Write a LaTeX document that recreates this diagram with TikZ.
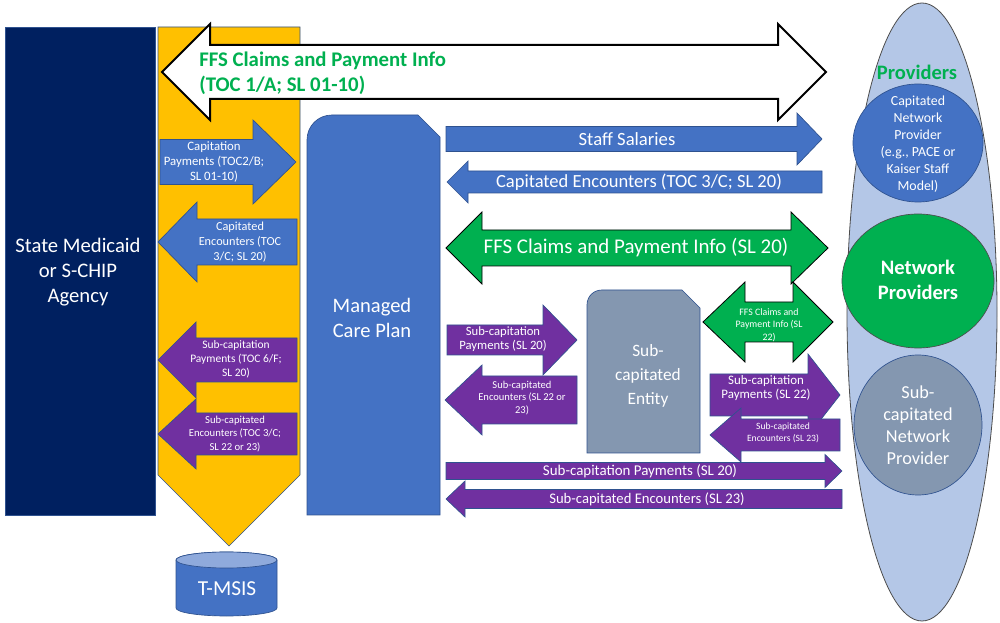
\documentclass[tikz,border=0pt]{standalone}
\usepackage{fontspec}
\setmainfont{Carlito}
\definecolor{AgencyClr}{RGB}{0,32,96}
\definecolor{FlowClr}{RGB}{255,192,0}
\definecolor{BlueClr}{RGB}{68,114,196}
\definecolor{PurpleClr}{RGB}{112,48,160}
\definecolor{GreenClr}{RGB}{0,176,80}
\definecolor{SlateClr}{RGB}{132,151,176}
\definecolor{PaleClr}{RGB}{180,199,231}
\definecolor{EdgeClr}{RGB}{47,82,143}
\definecolor{LidClr}{RGB}{143,170,220}

\newcommand{\fsz}[2]{\fontsize{#1}{#2}\selectfont}
\newcommand{\RightBlock}[7]{\filldraw[#1] (#2,#5-#6) -- (#3,#5-#6) -- (#3,#5-#7) -- (#4,#5) -- (#3,#5+#7) -- (#3,#5+#6) -- (#2,#5+#6) -- cycle;}
\newcommand{\LeftBlock}[7]{\filldraw[#1] (#2,#5) -- (#3,#5-#7) -- (#3,#5-#6) -- (#4,#5-#6) -- (#4,#5+#6) -- (#3,#5+#6) -- (#3,#5+#7) -- cycle;}
\newcommand{\BothBlock}[8]{\filldraw[#1] (#2,#6) -- (#3,#6-#8) -- (#3,#6-#7) -- (#4,#6-#7) -- (#4,#6-#8) -- (#5,#6) -- (#4,#6+#8) -- (#4,#6+#7) -- (#3,#6+#7) -- (#3,#6+#8) -- cycle;}

\tikzset{
  blue block/.style={fill=BlueClr,draw=EdgeClr,line width=0.5pt},
  purple block/.style={fill=PurpleClr,draw=EdgeClr,line width=0.5pt},
  green block/.style={fill=GreenClr,draw=black,line width=0.6pt},
  lbl/.style={text=white,align=center,inner sep=0pt},
}

\begin{document}
\begin{tikzpicture}[x=0.75pt,y=-0.75pt]
\useasboundingbox (0,0) rectangle (1000,623);

\filldraw[fill=AgencyClr,draw=EdgeClr,line width=0.5pt] (5,27) rectangle (155,515);
\filldraw[fill=FlowClr,draw=EdgeClr,line width=0.5pt] (158,27) -- (300,27) -- (300,475) -- (229,546) -- (158,475) -- cycle;

\filldraw[fill=BlueClr,draw=EdgeClr,line width=0.5pt] (176,560) -- (176,608) arc[start angle=180,end angle=0,x radius=50.5,y radius=8] -- (277,560) arc[start angle=0,end angle=-180,x radius=50.5,y radius=8] -- cycle;
\filldraw[fill=LidClr,draw=EdgeClr,line width=0.5pt] (226.5,560) ellipse[x radius=50.5,y radius=8];

\BothBlock{fill=white,draw=black,line width=1.5pt}{162}{210}{778}{826}{72}{27}{48}

\RightBlock{blue block}{160}{253}{296}{162}{22.5}{42}
\LeftBlock{blue block}{158}{197}{297}{242}{23}{40}
\LeftBlock{purple block}{158}{196}{297}{360}{22}{38}
\LeftBlock{purple block}{158}{196}{297}{434}{21}{35}

\filldraw[fill=BlueClr,draw=EdgeClr,line width=0.5pt] (307,515) -- (307,140) .. controls (307,126) and (318,115) .. (332,115) -- (418,115) -- (440,137) -- (440,515) -- cycle;
\filldraw[fill=SlateClr,draw=EdgeClr,line width=0.5pt] (587,453) -- (587,305) .. controls (587,296) and (594,290) .. (602,290) -- (682,290) -- (700,308) -- (700,453) -- cycle;

\RightBlock{blue block}{446}{797}{822}{139}{12.5}{26}
\LeftBlock{blue block}{447}{468}{822}{182}{11}{21}
\BothBlock{green block}{446}{482}{791}{828}{248}{18}{36}
\RightBlock{purple block}{447}{543}{577}{340}{15}{35}
\LeftBlock{purple block}{445}{482}{577}{400}{24}{35}
\BothBlock{green block}{703}{745}{793}{833}{322}{20}{40}
\RightBlock{purple block}{710}{808}{840}{395}{21}{41}
\LeftBlock{purple block}{710}{741}{840}{435}{16}{27}
\RightBlock{purple block}{446}{825}{842}{471}{8.5}{16.5}
\LeftBlock{purple block}{446}{465}{842}{499}{9.5}{18}

\filldraw[fill=PaleClr,draw=black!70,line width=0.6pt] (922,312) ellipse[x radius=75,y radius=309];
\filldraw[fill=BlueClr,draw=EdgeClr,line width=0.5pt] (918,143) ellipse[x radius=65,y radius=59];
\filldraw[fill=GreenClr,draw=black!70,line width=0.5pt] (918,281) ellipse[x radius=76,y radius=67];
\filldraw[fill=SlateClr,draw=EdgeClr,line width=0.5pt] (918,425) ellipse[x radius=64,y radius=70];

\node[lbl,font=\fsz{15.5}{19}] (agency) at (78,272) {State Medicaid\\or S-CHIP\\Agency};
\node[inner sep=0pt,align=left,anchor=west,text=GreenClr,font=\fsz{15.6}{18.75}\bfseries] (ffsTop) at (199,73) {FFS Claims and Payment Info\\(TOC 1/A; SL 01-10)};
\node[lbl,font=\fsz{9.6}{11}] (capPay) at (214,162) {Capitation\\Payments (TOC2/B;\\SL 01-10)};
\node[lbl,font=\fsz{9.2}{11}] (capEnc) at (240,242) {Capitated\\Encounters (TOC\\3/C; SL 20)};
\node[lbl,font=\fsz{8.6}{10.5}] (subPayA) at (236,359) {Sub-capitation\\Payments (TOC 6/F;\\SL 20)};
\node[lbl,font=\fsz{8}{10}] (subEncA) at (235,434) {Sub-capitated\\Encounters (TOC 3/C;\\SL 22 or 23)};
\node[lbl,font=\fsz{16}{19}] (tmsis) at (227,589) {T-MSIS};
\node[lbl,font=\fsz{15.4}{19}] (mcp) at (372,318) {Managed\\Care Plan};
\node[lbl,font=\fsz{14}{16}] (staff) at (627,139) {Staff Salaries};
\node[lbl,font=\fsz{13.9}{16}] (capEncB) at (639,182) {Capitated Encounters (TOC 3/C; SL 20)};
\node[lbl,font=\fsz{15.7}{18}] (ffsMid) at (636,248) {FFS Claims and Payment Info (SL 20)};
\node[lbl,font=\fsz{9.5}{10}] (subPayB) at (503,339) {Sub-capitation\\Payments (SL 20)};
\node[lbl,font=\fsz{7.9}{9.4}] (subEncB) at (522,398) {Sub-capitated\\Encounters (SL 22 or\\23)};
\node[lbl,font=\fsz{13}{18}] (entity) at (648,376) {Sub-\\capitated\\Entity};
\node[lbl,font=\fsz{7.4}{9.5}] (ffsSub) at (769,325) {FFS Claims and\\Payment Info (SL\\22)};
\node[lbl,font=\fsz{9.7}{11}] (subPayC) at (766,388) {Sub-capitation\\Payments (SL 22)};
\node[lbl,font=\fsz{7.2}{8.7}] (subEncC) at (783,433) {Sub-capitated\\Encounters (SL 23)};
\node[lbl,font=\fsz{11.2}{13}] (subPayD) at (640,471) {Sub-capitation Payments (SL 20)};
\node[lbl,font=\fsz{11}{13}] (subEncD) at (647,499) {Sub-capitated Encounters (SL 23)};
\node[inner sep=0pt,text=GreenClr,font=\fsz{15.4}{18}\bfseries] (providers) at (917,72) {Providers};
\node[lbl,font=\fsz{10.4}{12.75}] (capProv) at (918,144) {Capitated\\Network\\Provider\\(e.g., PACE or\\Kaiser Staff\\Model)};
\node[lbl,font=\fsz{15.4}{18.75}\bfseries] (netProv) at (918,280) {Network\\Providers};
\node[lbl,font=\fsz{13.7}{16.5}] (subProv) at (918,425) {Sub-\\capitated\\Network\\Provider};

\end{tikzpicture}
\end{document}
